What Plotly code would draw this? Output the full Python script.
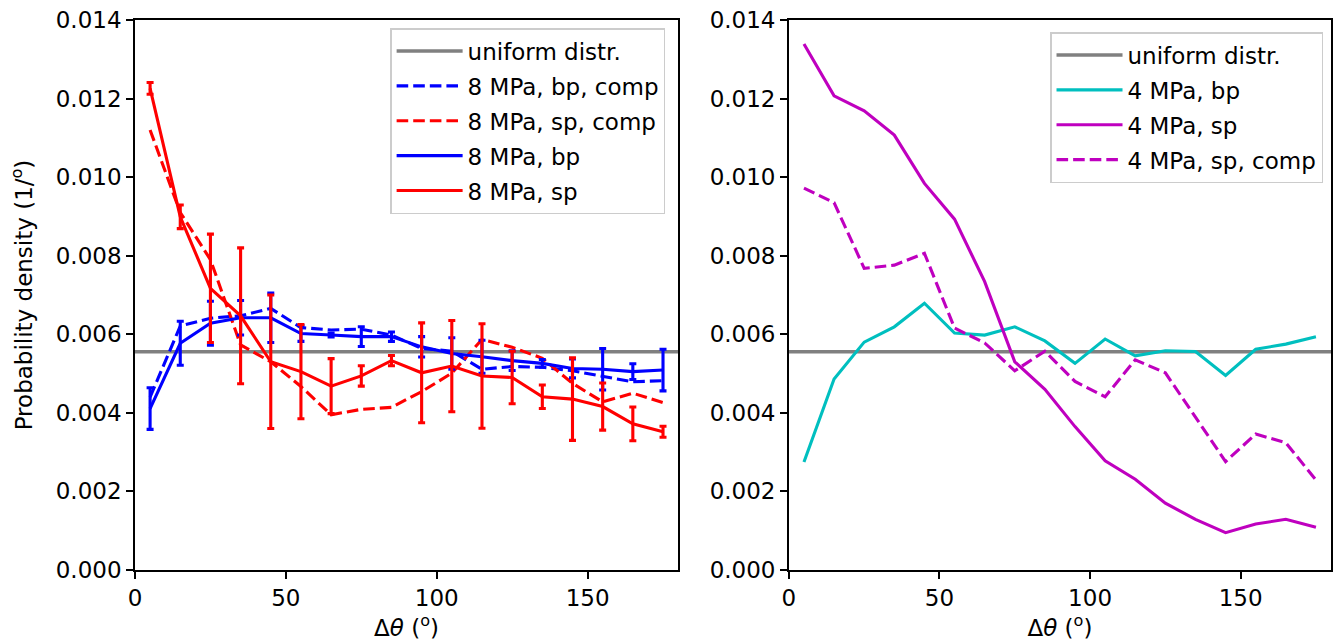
import plotly.graph_objects as go

# ---- data ----
theta = [5, 15, 25, 35, 45, 55, 65, 75, 85, 95, 105, 115, 125, 135, 145, 155, 165, 175]
uniform_x = [0, 180]
uniform_val = 1 / 180

# left panel (8 MPa)
bp8_comp = [0.0044, 0.00621, 0.00641, 0.00647, 0.00666, 0.00617, 0.00611, 0.00613, 0.00598,
            0.00564, 0.00557, 0.00511, 0.00518, 0.00516, 0.00507, 0.00494, 0.00479, 0.00482]
sp8_comp = [0.0112, 0.0091, 0.0079, 0.00573, 0.0053, 0.00467, 0.00395, 0.00409, 0.00414,
            0.00454, 0.00501, 0.00587, 0.00567, 0.00539, 0.00475, 0.00428, 0.0045, 0.00426]
bp8 = [0.00411, 0.00577, 0.00628, 0.00642, 0.00642, 0.00602, 0.00598, 0.00594, 0.00594,
       0.00568, 0.00551, 0.00543, 0.00533, 0.00526, 0.00513, 0.00511, 0.00505, 0.00509]
bp8_err = [0.00053, 0.00056, 0.00056, 0.00044, 0.00063, 0.0002, 0.00005, 0.00025, 0.00012,
           0.00026, 0.0004, 0.00042, 0.00025, 0.0001, 0.00024, 0.00053, 0.0002, 0.00053]
sp8 = [0.01226, 0.00899, 0.00717, 0.00647, 0.0053, 0.00505, 0.00468, 0.00494, 0.00533,
       0.00502, 0.00519, 0.00494, 0.0049, 0.00441, 0.00435, 0.00416, 0.00372, 0.00352]
sp8_err = [0.00015, 0.0003, 0.00138, 0.00173, 0.0017, 0.0012, 0.0007, 0.00026, 0.00013,
           0.00127, 0.00116, 0.00133, 0.00067, 0.0003, 0.00105, 0.0006, 0.00043, 0.00014]

# right panel (4 MPa)
bp4 = [0.00275, 0.00486, 0.0058, 0.00619, 0.00679, 0.00603, 0.00598, 0.00619, 0.00583,
       0.00526, 0.00588, 0.00545, 0.00558, 0.00556, 0.00495, 0.00562, 0.00575, 0.00594]
sp4 = [0.01339, 0.01207, 0.01169, 0.01107, 0.00984, 0.00893, 0.00734, 0.0053, 0.0046,
       0.00365, 0.00278, 0.00231, 0.0017, 0.00129, 0.00095, 0.00117, 0.00129, 0.00109]
sp4_comp = [0.00972, 0.00935, 0.00768, 0.00776, 0.00806, 0.00616, 0.00578, 0.00507, 0.00557,
            0.0048, 0.00441, 0.00535, 0.00502, 0.0039, 0.00276, 0.00346, 0.00324, 0.00229]

x_ticks = [0, 50, 100, 150]
y_ticks = [0.000, 0.002, 0.004, 0.006, 0.008, 0.010, 0.012, 0.014]

# ---- style ----
FONT = "DejaVu Sans"
FS = 23
LW = 3.1
DASH = "11.6px,5px"
BLUE, RED, CYAN, MAG, GRAY = "#0000ff", "#ff0000", "#00bfbf", "#bf00bf", "#808080"

fig = go.Figure()
counter = [0]

def line(x, y, name, color, dash="solid", xa="x", ya="y", legend="legend", err=None, width=LW):
    kw = {}
    if err is not None:
        kw["error_y"] = dict(type="data", array=err, visible=True, color=color,
                             thickness=LW, width=3.5)
    counter[0] += 1
    fig.add_trace(go.Scatter(x=x, y=y, name=name, mode="lines",
                             line=dict(color=color, width=width, dash=dash),
                             legendgroup=f"g{counter[0]}",
                             xaxis=xa, yaxis=ya, legend=legend, **kw))

# left
line(uniform_x, [uniform_val] * len(uniform_x), "uniform distr.", GRAY, width=3.6)
line(theta, bp8_comp, "8 MPa, bp, comp", BLUE, DASH)
line(theta, sp8_comp, "8 MPa, sp, comp", RED, DASH)
line(theta, bp8, "8 MPa, bp", BLUE, err=bp8_err)
line(theta, sp8, "8 MPa, sp", RED, err=sp8_err)

# right
line(uniform_x, [uniform_val] * len(uniform_x), "uniform distr.", GRAY, xa="x2", ya="y2",
     legend="legend2", width=3.6)
line(theta, bp4, "4 MPa, bp", CYAN, xa="x2", ya="y2", legend="legend2")
line(theta, sp4, "4 MPa, sp", MAG, xa="x2", ya="y2", legend="legend2")
line(theta, sp4_comp, "4 MPa, sp, comp", MAG, DASH, xa="x2", ya="y2", legend="legend2")

ML, MR, MT, MB = 135, 2, 20, 74
W, H = 1335, 644
PW = W - ML - MR
PH = H - MT - MB
left_dom = [0, (679 - ML) / PW]
right_dom = [(790 - ML) / PW, 1]

xcommon = dict(range=[0, 180], tickvals=x_ticks, ticks="outside", ticklen=7, tickwidth=1.6,
               tickcolor="black", showline=True, linecolor="black", linewidth=1.6,
               mirror=True, showgrid=False, zeroline=False,
               tickfont=dict(family=FONT, size=FS, color="black"),
               title=dict(text="Δ<i>θ</i> (<sup>o</sup>)", font=dict(family=FONT, size=FS, color="black"),
                          standoff=4))
ycommon = dict(range=[0, 0.014], tickvals=y_ticks, tickformat=".3f", ticks="outside", ticklen=7,
               tickwidth=1.6, tickcolor="black", showline=True, linecolor="black", linewidth=1.6,
               mirror=True, showgrid=False, zeroline=False,
               tickfont=dict(family=FONT, size=FS, color="black"))

legcommon = dict(font=dict(family=FONT, size=FS, color="black"), bgcolor="rgba(255,255,255,0.8)",
                 bordercolor="#cccccc", borderwidth=1.5, xanchor="right", yanchor="top",
                 itemwidth=66, tracegroupgap=2)

fig.update_layout(
    width=W, height=H,
    margin=dict(l=ML, r=MR, t=MT, b=MB),
    plot_bgcolor="white", paper_bgcolor="white",
    font=dict(family=FONT, size=FS, color="black"),
    xaxis=dict(domain=left_dom, anchor="y", **xcommon),
    yaxis=dict(domain=[0, 1], anchor="x",
               title=dict(text="Probability density (1/<sup>o</sup>)",
                          font=dict(family=FONT, size=FS, color="black"), standoff=17),
               **ycommon),
    xaxis2=dict(domain=right_dom, anchor="y2", **xcommon),
    yaxis2=dict(domain=[0, 1], anchor="x2", **ycommon),
    legend=dict(x=(666 - ML) / PW, y=1 - (28 - MT) / PH, **legcommon),
    legend2=dict(x=(1325 - ML) / PW, y=1 - (32 - MT) / PH, **legcommon),
    showlegend=True,
)

fig.write_html("out.html", config={"displayModeBar": False},
               post_script="document.body.style.margin='0px';document.body.style.padding='0px';")
